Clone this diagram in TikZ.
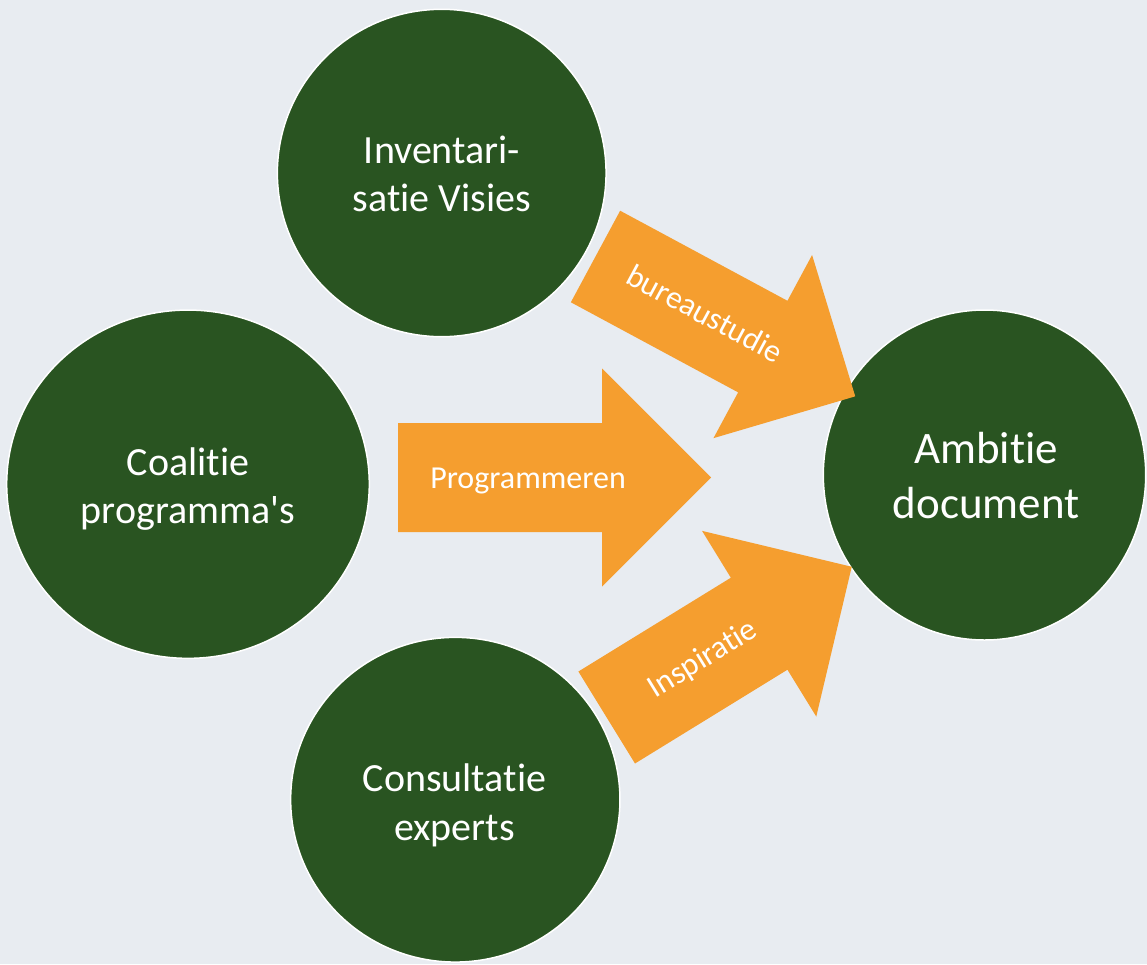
\documentclass[tikz,border=0pt]{standalone}
\usepackage{fontspec}
\newfontfamily\carl{Carlito}[Ligatures=NoCommon]
\usetikzlibrary{shapes.geometric}
\definecolor{bgc}{HTML}{E8ECF1}
\definecolor{grn}{HTML}{295421}
\definecolor{org}{HTML}{F59E2F}
\tikzset{
  disc/.style={ellipse, fill=grn, draw=white, line width=1.5pt, inner sep=0pt, outer sep=0pt},
  disctext/.style={text=white, anchor=base, inner sep=0pt, font=\carl\fontsize{40}{48.5}\selectfont},
  bigtext/.style={text=white, anchor=base, inner sep=0pt, font=\carl\fontsize{45}{55}\selectfont},
  arrowlbl/.style={text=white, anchor=base, inner sep=0pt, font=\carl\fontsize{32}{38}\selectfont},
  blockarrow/.style={fill=org},
}
\newcommand\orangearrowshape[4]{% length, head length, shaft half width, head half width
  \fill[blockarrow] (0,-#3) -- ({#1-#2},-#3) -- ({#1-#2},-#4) -- (#1,0) -- ({#1-#2},#4) -- ({#1-#2},#3) -- (0,#3) -- cycle;}
\begin{document}
\begin{tikzpicture}[x=1pt,y=-1pt]
\useasboundingbox (0,0) rectangle (1147,964);
\fill[bgc] (0,0) rectangle (1147,964);
\begin{scope}
\clip (0,0) rectangle (1147,964);
% discs
\node[disc, minimum width=328.7pt, minimum height=327.4pt] (inv) at (441.7,173) {};
\node[disc, minimum width=362.6pt, minimum height=348.3pt] (coal) at (188,484.2) {};
\node[disc, minimum width=329.3pt, minimum height=324.7pt] (cons) at (455.3,799.7) {};
\node[disc, minimum width=322.4pt, minimum height=330pt] (amb) at (984.5,475) {};
% disc texts
\node[disctext] (inv-t) at (442,163) {\begin{tabular}[t]{@{}c@{}}Inventari-\\satie Visies\end{tabular}};
\node[disctext] (coal-t) at (188,475) {\begin{tabular}[t]{@{}c@{}}Coalitie\\programma's\end{tabular}};
\node[disctext] (cons-t) at (454.5,791.7) {\begin{tabular}[t]{@{}c@{}}Consultatie\\experts\end{tabular}};
\node[bigtext] (amb-t) at (986,463) {\begin{tabular}[t]{@{}c@{}}Ambitie\\document\end{tabular}};
% arrows
\begin{scope}[shift={(595.5,256.5)}, rotate=-28.3]
  \orangearrowshape{295}{105}{52}{104}
  \node[arrowlbl, rotate=-28.3] (lb1) at (123.5,9) {bureaustudie};
\end{scope}
\begin{scope}[shift={(398,477.5)}]
  \orangearrowshape{313}{109}{54.5}{109}
  \node[arrowlbl] (lb2) at (130,11) {Programmeren};
\end{scope}
\begin{scope}[shift={(606.7,717.5)}, rotate=31.6]
  \orangearrowshape{287.7}{108.7}{54}{109}
  \node[arrowlbl, rotate=31.6] (lb3) at (112.5,9.4) {Inspiratie};
\end{scope}
\end{scope}
\end{tikzpicture}
\end{document}
